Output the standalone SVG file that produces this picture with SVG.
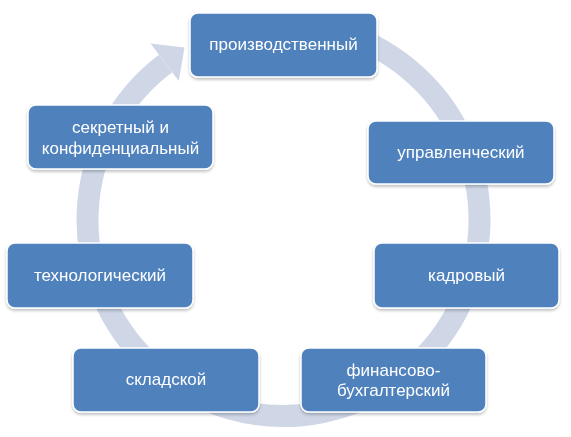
<svg xmlns="http://www.w3.org/2000/svg" width="571" height="437" viewBox="0 0 571 437">
<defs>
<style>
.box{fill:#4F81BD;stroke:#FFFFFF;stroke-width:1.5}
.lbl{font-family:"Liberation Sans","Noto Sans",Arial,sans-serif;font-size:17px;fill:#FFFFFF;text-anchor:middle}
.band{fill:none;stroke:#CFD7E7;stroke-width:22}
.head{fill:#CFD7E7}
</style>
<filter id="sh" x="-10%" y="-10%" width="120%" height="130%">
<feGaussianBlur in="SourceAlpha" stdDeviation="1.5"/>
<feOffset dx="0" dy="1.5" result="b"/>
<feComponentTransfer><feFuncA type="linear" slope="0.25"/></feComponentTransfer>
<feMerge><feMergeNode/><feMergeNode in="SourceGraphic"/></feMerge>
</filter>
</defs>
<rect width="571" height="437" fill="#FFFFFF"/>
<g id="connectors">
<path class="band" d="M165.55,63.5 A196,196 0 1 0 334.2,30.7"/>
<polygon class="head" points="150.5,43.5 184.5,47.5 178.8,81"/>
</g>
<g id="n1" filter="url(#sh)"><rect class="box" x="190" y="13" width="187" height="64" rx="8"/><text class="lbl" x="283.5" y="50">производственный</text></g>
<g id="n2" filter="url(#sh)"><rect class="box" x="368" y="121" width="186" height="63" rx="8"/><text class="lbl" x="461" y="158">управленческий</text></g>
<g id="n3" filter="url(#sh)"><rect class="box" x="374" y="243" width="185" height="65" rx="8"/><text class="lbl" x="466.5" y="281">кадровый</text></g>
<g id="n4" filter="url(#sh)"><rect class="box" x="301" y="348" width="185" height="64" rx="8"/><text class="lbl" x="393.5" y="376">финансово-</text><text class="lbl" x="393.5" y="396">бухгалтерский</text></g>
<g id="n5" filter="url(#sh)"><rect class="box" x="73" y="348" width="186" height="64" rx="8"/><text class="lbl" x="166" y="385">складской</text></g>
<g id="n6" filter="url(#sh)"><rect class="box" x="7" y="243" width="186" height="65" rx="8"/><text class="lbl" x="100" y="281">технологический</text></g>
<g id="n7" filter="url(#sh)"><rect class="box" x="28" y="105" width="185" height="64" rx="8"/><text class="lbl" x="120.5" y="133">секретный и</text><text class="lbl" x="120.5" y="154">конфиденциальный</text></g>
</svg>
